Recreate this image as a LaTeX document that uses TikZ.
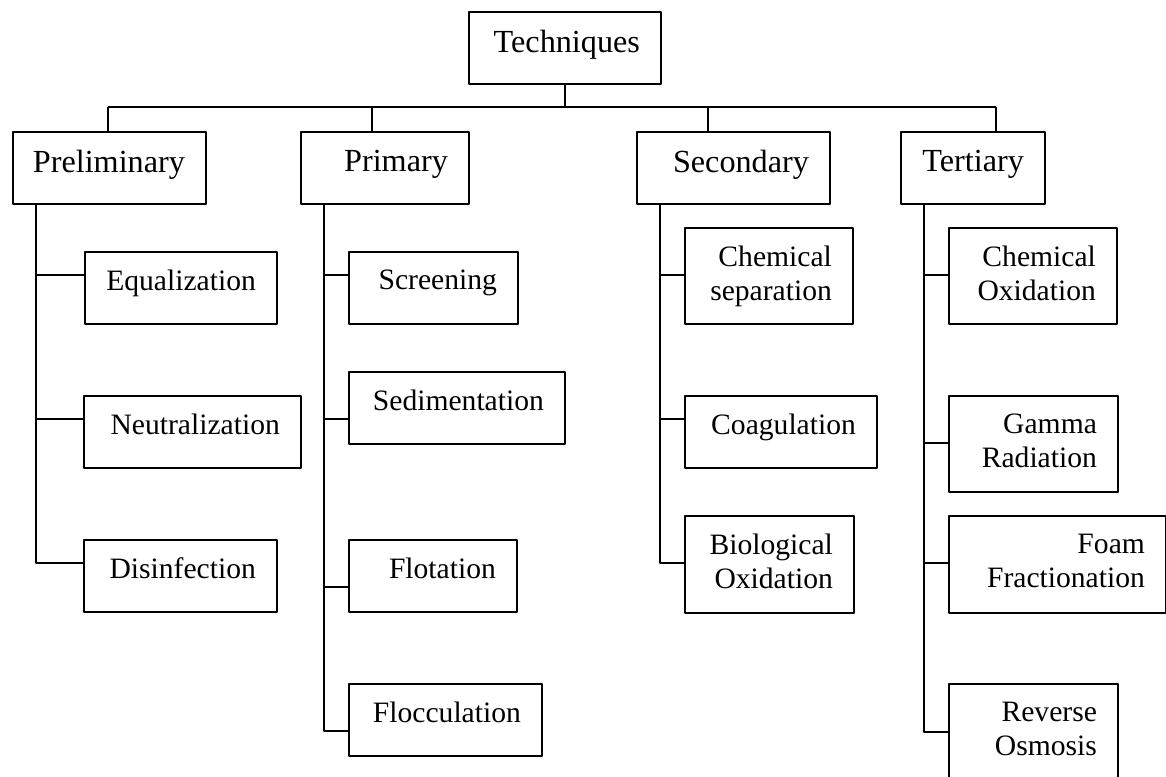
\documentclass[tikz,border=0pt]{standalone}
\usepackage{fontspec}
\setmainfont{Liberation Serif}

\begin{document}
\begin{tikzpicture}[
    x = 1pt, y = -1pt,
    line join=round,
    line width = 1.8pt,
    box/.style 2 args = {draw, anchor=north west, inner sep=0pt, minimum width=#1pt, minimum height=#2pt},
    head/.style = {anchor=north east, inner sep=0pt, align=right, font=\fontsize{32.2}{36}\selectfont},
    item/.style = {anchor=north east, inner sep=0pt, align=right, font=\fontsize{29.6}{34}\selectfont}
]
    \useasboundingbox (0,0) rectangle (1166,776);

    % top and first level
    \node[box={192}{72}] (tech) at (468,11) {};
    \node[box={193}{72}] (pre) at (12,131) {};
    \node[box={168}{72}] (pri) at (300,131) {};
    \node[box={193}{72}] (sec) at (636,131) {};
    \node[box={144}{72}] (ter) at (900,131) {};

    \node[head] (tech-t) at ([shift={(-21,18)}]tech.north east) {Techniques};
    \node[head] (pre-t) at ([shift={(-21,18)}]pre.north east) {Preliminary};
    \node[head] (pri-t) at ([shift={(-21,18)}]pri.north east) {Primary};
    \node[head] (sec-t) at ([shift={(-21,18)}]sec.north east) {Secondary};
    \node[head] (ter-t) at ([shift={(-21,18)}]ter.north east) {Tertiary};

    \coordinate (d1) at (108,107);
    \coordinate (d2) at (372,107);
    \coordinate (d3) at (708,107);
    \coordinate (d4) at (996,107);

    \draw (tech.south) -- (tech.south |- d1);
    \draw (d1) -- (d4);
    \draw (d1) -- (d1 |- pre.north);
    \draw (d2) -- (d2 |- pri.north);
    \draw (d3) -- (d3 |- sec.north);
    \draw (d4) -- (d4 |- ter.north);

    % preliminary
    \node[box={192}{72}] (equ) at (84,251) {};
    \node[box={217}{72}] (neu) at (83,395) {};
    \node[box={193}{72}] (dis) at (83,539) {};
    \node[item] (equ-t) at ([shift={(-21,18)}]equ.north east) {Equalization};
    \node[item] (neu-t) at ([shift={(-21,18)}]neu.north east) {Neutralization};
    \node[item] (dis-t) at ([shift={(-21,18)}]dis.north east) {Disinfection};

    \coordinate (s1) at (36,203);
    \draw (s1) |- ([shift={(0,24)}]equ.north west);
    \draw (s1) |- ([shift={(0,24)}]neu.north west);
    \draw (s1) |- ([shift={(0,24)}]dis.north west);

    % primary
    \node[box={169}{72}] (scr) at (348,251) {};
    \node[box={216}{72}] (sed) at (348,371) {};
    \node[box={168}{72}] (flo) at (348,539) {};
    \node[box={193}{72}] (flc) at (348,683) {};
    \node[item] (scr-t) at ([shift={(-21,18)}]scr.north east) {Screening};
    \node[item] (sed-t) at ([shift={(-21,18)}]sed.north east) {Sedimentation};
    \node[item] (flo-t) at ([shift={(-21,18)}]flo.north east) {Flotation};
    \node[item] (flc-t) at ([shift={(-21,18)}]flc.north east) {Flocculation};

    \coordinate (s2) at (324,203);
    \draw (s2) |- ([shift={(0,24)}]scr.north west);
    \draw (s2) |- ([shift={(0,48)}]sed.north west);
    \draw (s2) |- ([shift={(0,48)}]flo.north west);
    \draw (s2) |- ([shift={(0,48)}]flc.north west);

    % secondary
    \node[box={168}{96}] (chs) at (684,227) {};
    \node[box={192}{72}] (coa) at (684,395) {};
    \node[box={169}{97}] (bio) at (684,515) {};
    \node[item] (chs-t) at ([shift={(-21,18)}]chs.north east) {Chemical\\separation};
    \node[item] (coa-t) at ([shift={(-21,18)}]coa.north east) {Coagulation};
    \node[item] (bio-t) at ([shift={(-21,18)}]bio.north east) {Biological\\Oxidation};

    \coordinate (s3) at (660,203);
    \draw (s3) |- ([shift={(0,48)}]chs.north west);
    \draw (s3) |- ([shift={(0,24)}]coa.north west);
    \draw (s3) |- ([shift={(0,48)}]bio.north west);

    % tertiary
    \node[box={168}{96}] (cho) at (948,227) {};
    \node[box={169}{96}] (gam) at (948,395) {};
    \node[box={217}{97}] (foa) at (948,515) {};
    \node[box={169}{96}] (rev) at (948,683) {};
    \node[item] (cho-t) at ([shift={(-21,18)}]cho.north east) {Chemical\\Oxidation};
    \node[item] (gam-t) at ([shift={(-21,18)}]gam.north east) {Gamma\\Radiation};
    \node[item] (foa-t) at ([shift={(-21,18)}]foa.north east) {Foam\\Fractionation};
    \node[item] (rev-t) at ([shift={(-21,18)}]rev.north east) {Reverse\\Osmosis};

    \coordinate (s4) at (924,203);
    \draw (s4) |- ([shift={(0,48)}]cho.north west);
    \draw (s4) |- ([shift={(0,48)}]gam.north west);
    \draw (s4) |- ([shift={(0,48)}]foa.north west);
    \draw (s4) |- ([shift={(0,49)}]rev.north west);

\end{tikzpicture}
\end{document}
